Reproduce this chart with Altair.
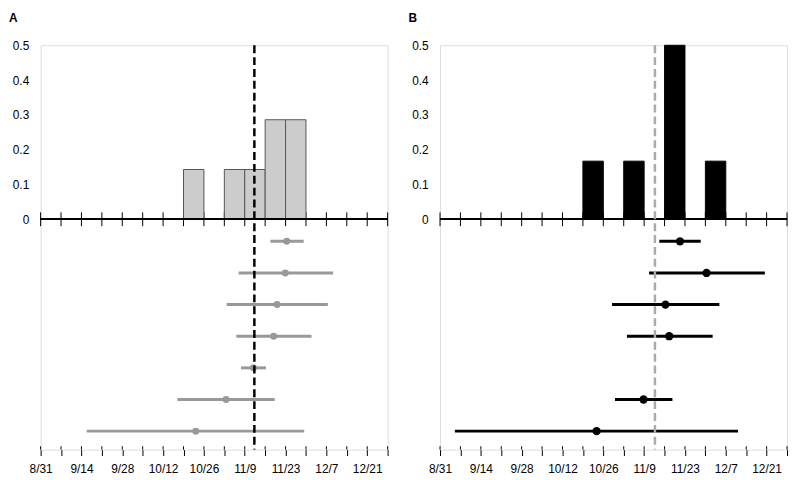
import altair as alt
import pandas as pd

# ---- data (x values are days after 8/31) ----
TICK_LABELS = ["8/31", "9/14", "9/28", "10/12", "10/26", "11/9", "11/23", "12/7", "12/21"]
TICK_DAYS = list(range(0, 120, 7))
X_DOMAIN = [0, 119]

A_HIST_START = [49, 63, 70, 77, 84]
A_HIST_FREQ = [0.143, 0.143, 0.143, 0.286, 0.286]
B_HIST_START = [49, 63, 77, 91]
B_HIST_FREQ = [0.167, 0.167, 0.5, 0.167]
BIN_WIDTH = 7

A_ROW = [1, 2, 3, 4, 5, 6, 7]
A_EST = [84.4, 83.9, 81.1, 79.9, 73.0, 63.6, 53.2]
A_LO = [78.8, 67.9, 63.8, 67.1, 68.7, 46.9, 15.8]
A_HI = [90.2, 100.3, 98.5, 92.9, 77.3, 80.3, 90.4]

B_ROW = [1, 2, 3, 4, 6, 7]
B_EST = [82.3, 91.4, 77.3, 78.6, 69.8, 53.7]
B_LO = [75.2, 71.7, 59.0, 64.1, 60.0, 5.1]
B_HI = [89.4, 111.4, 95.8, 93.5, 79.7, 102.2]

A_REF = 73.3
B_REF = 73.7

FONT = "Liberation Sans"
W, H = 351, 409

label_expr = ""
for i, lab in enumerate(TICK_LABELS):
    label_expr += f"datum.value == {i * 14} ? '{lab}' : "
label_expr += "''"

xscale = alt.Scale(domain=X_DOMAIN, nice=False, zero=False)
# histogram occupies the upper 176 px of the panel, 0 sits on the separator line
HIST_LOW = 0.5 - H * 0.5 / 176
hscale = alt.Scale(domain=[HIST_LOW, 0.5], nice=False, zero=False)
# forest rows in the lower part of the panel
ROW_TOP = 1 - 198.3 / 32
ROW_BOT = 1 + (H - 198.3) / 32
rscale = alt.Scale(domain=[ROW_TOP, ROW_BOT], nice=False, zero=False, reverse=True)
TICK_HALF = 7 * 0.5 / 176


def panel(title, hs, hf, rows, est, lo, hi, ref, bar_fill, bar_stroke, est_color, ref_color, pt_size):
    hist = pd.DataFrame({"start": hs, "freq": hf})
    hist["end"] = hist["start"] + BIN_WIDTH
    forest = pd.DataFrame({"row": rows, "est": est, "lo": lo, "hi": hi})
    refdf = pd.DataFrame({"x": [ref]})
    ticks = pd.DataFrame({"d": TICK_DAYS})

    y_axis = alt.Axis(values=[0, 0.1, 0.2, 0.3, 0.4, 0.5], format=".1~f", ticks=False,
                      labelPadding=12, labelFontSize=12, labelFont=FONT, labelColor="black",
                      domain=False, grid=False, title=None, minExtent=32, maxExtent=32)
    bottom_axis = alt.Axis(values=TICK_DAYS, labelExpr=label_expr, labels=True, tickSize=6,
                           tickColor="black", labelPadding=8, labelFontSize=12, labelFont=FONT,
                           labelColor="black", labelFlush=False, labelOverlap=False,
                           domain=False, grid=False, title=None)

    # axis-carrying layer: the week ticks crossing the zero line
    axis_ticks = alt.Chart(ticks).mark_rule(color="black", strokeWidth=1).encode(
        x=alt.X("d:Q", scale=xscale, axis=bottom_axis),
        y=alt.datum(TICK_HALF, scale=hscale, axis=y_axis),
        y2=alt.datum(-TICK_HALF),
    )
    bars = alt.Chart(hist).mark_bar(fill=bar_fill, stroke=bar_stroke, strokeWidth=1).encode(
        x=alt.X("start:Q", scale=xscale, axis=None),
        x2="end:Q",
        y=alt.Y("freq:Q", scale=hscale, axis=None),
        y2=alt.datum(0),
    )
    zero_line = alt.Chart(ticks).mark_rule(color="black", strokeWidth=1.3).encode(
        x=alt.datum(X_DOMAIN[0], scale=xscale, axis=None),
        x2=alt.datum(X_DOMAIN[1]),
        y=alt.datum(0, scale=hscale, axis=None),
    )
    bot_ticks = alt.Chart(ticks).mark_rule(color="black", strokeWidth=1).encode(
        x=alt.X("d:Q", scale=xscale, axis=None),
        y=alt.datum(HIST_LOW + 3.4 * 0.5 / 176, scale=hscale, axis=None),
        y2=alt.datum(HIST_LOW),
    )
    ci = alt.Chart(forest).mark_rule(strokeWidth=3, color=est_color).encode(
        x=alt.X("lo:Q", scale=xscale, axis=None),
        x2="hi:Q",
        y=alt.Y("row:Q", scale=rscale, axis=None),
    )
    pts = alt.Chart(forest).mark_circle(size=pt_size, opacity=1, color=est_color).encode(
        x=alt.X("est:Q", scale=xscale, axis=None),
        y=alt.Y("row:Q", scale=rscale, axis=None),
    )
    ref_line = alt.Chart(refdf).mark_rule(strokeDash=[8, 4], strokeWidth=2.5, color=ref_color).encode(
        x=alt.X("x:Q", scale=xscale, axis=None)
    )
    return alt.layer(axis_ticks, bars, zero_line, bot_ticks, ci, pts, ref_line).resolve_scale(
        y="independent"
    ).resolve_axis(x="independent").properties(
        width=W, height=H,
        title=alt.TitleParams(title, anchor="start", fontSize=12, fontWeight="bold",
                              font=FONT, color="black", offset=15),
    )


pA = panel("A", A_HIST_START, A_HIST_FREQ, A_ROW, A_EST, A_LO, A_HI, A_REF,
           "#cccccc", "#555555", "#999999", "black", 50)
pB = panel("B", B_HIST_START, B_HIST_FREQ, B_ROW, B_EST, B_LO, B_HI, B_REF,
           "black", "black", "black", "#aaaaaa", 70)

chart = alt.hconcat(pA, pB, spacing=18).properties(
    padding={"left": 0, "top": 0, "right": 0, "bottom": 0}
).configure_view(stroke="black", strokeWidth=1).configure(background="white")

chart.save("out.html", embed_options={"renderer": "svg", "actions": False})
